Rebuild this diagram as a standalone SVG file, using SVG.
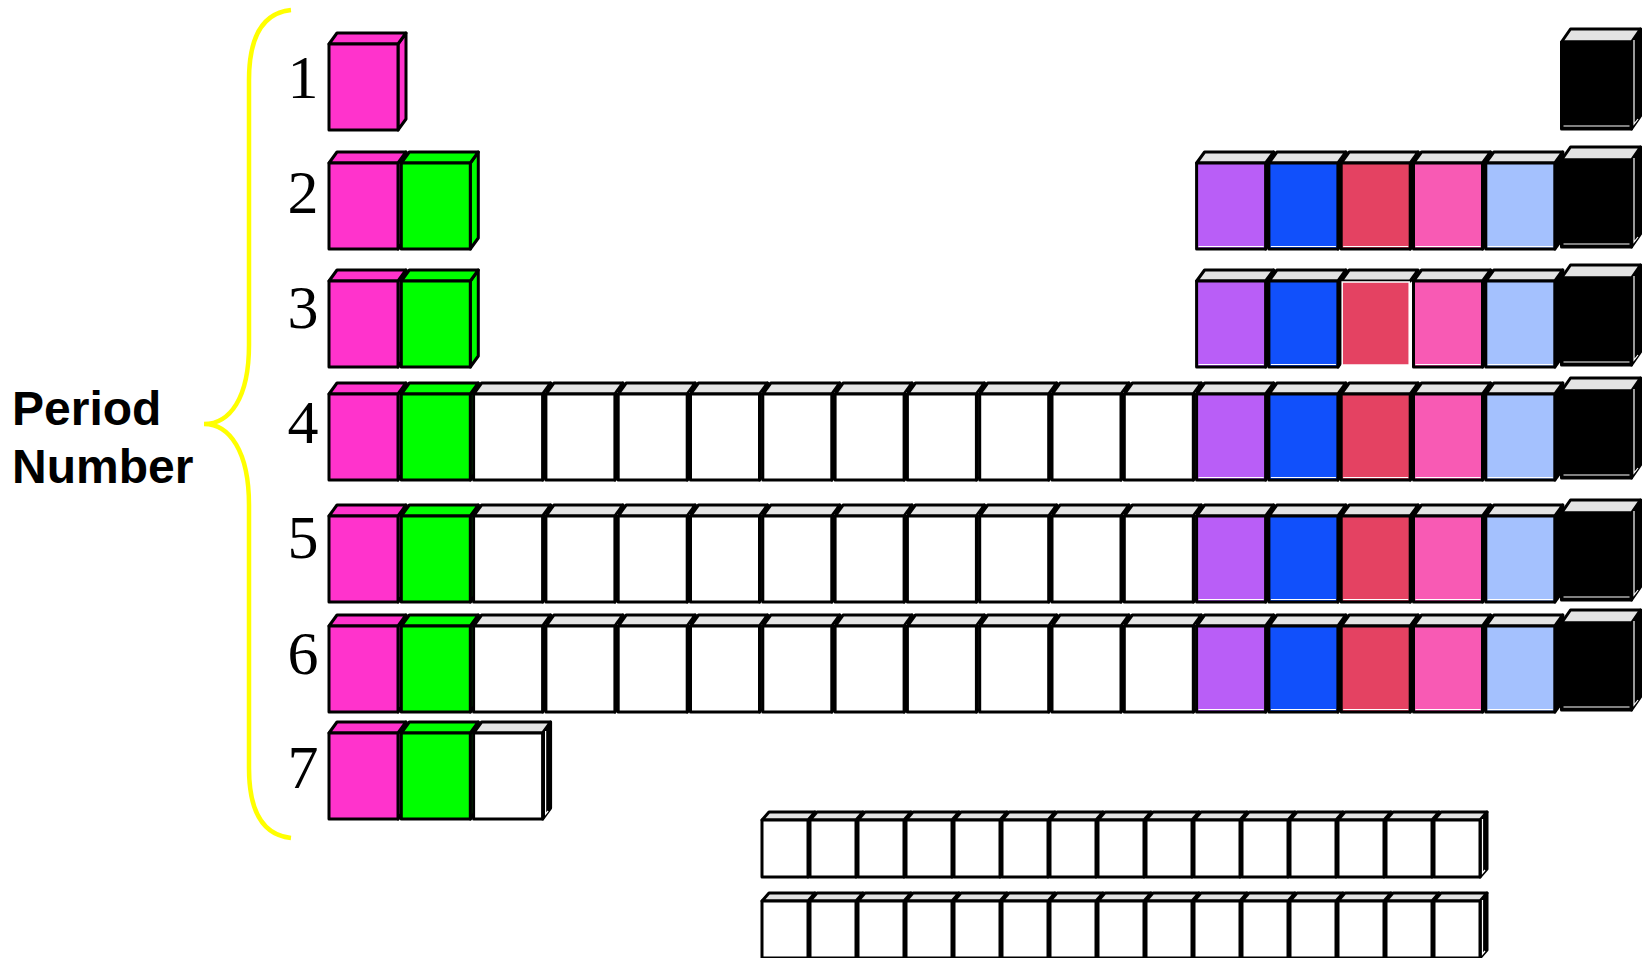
<svg xmlns="http://www.w3.org/2000/svg" width="1644" height="958" viewBox="0 0 1644 958">
<style>
.s{stroke:#000;stroke-width:3;stroke-linejoin:round}
.gt{fill:#E3E3E3}
.wl{stroke:#fff;stroke-width:1.2;fill:none}
.dig{font-family:"Liberation Serif","Times New Roman",serif;font-size:62px;fill:#000;text-anchor:middle}
.lab{font-family:"Liberation Sans",Arial,sans-serif;font-size:48px;font-weight:bold;fill:#000}
</style>
<defs>
<g id="b-pink" class="s"><polygon points="69,0 77,-11 77,75 69,86" fill="#FF33CC"/><polygon points="0,0 8,-11 77,-11 69,0" fill="#FF33CC"/><rect width="69" height="86" fill="#FF33CC"/></g>
<g id="b-green" class="s"><polygon points="69,0 77,-11 77,75 69,86" fill="#00FF00"/><polygon points="0,0 8,-11 77,-11 69,0" fill="#00FF00"/><rect width="69" height="86" fill="#00FF00"/></g>
<g id="b-white"><g class="s"><polygon points="69,0 77,-11 77,75 69,86" fill="#000"/><polygon points="0,0 8,-11 77,-11 69,0" class="gt"/><rect width="69" height="86" fill="#fff"/></g><polyline class="wl" points="72,-2 72,81 74.5,78"/></g>
<g id="b-purple"><g class="s"><polygon points="69,0 77,-11 77,75 69,86" fill="#000"/><polygon points="0,0 8,-11 77,-11 69,0" class="gt"/><rect width="69" height="86" fill="#B95EF7"/></g><line class="wl" x1="2" y1="83.5" x2="67" y2="83.5"/></g>
<g id="b-blue"><g class="s"><polygon points="69,0 77,-11 77,75 69,86" fill="#000"/><polygon points="0,0 8,-11 77,-11 69,0" class="gt"/><rect width="69" height="86" fill="#1150FB"/></g><line class="wl" x1="2" y1="83.5" x2="67" y2="83.5"/></g>
<g id="b-red"><g class="s"><polygon points="69,0 77,-11 77,75 69,86" fill="#000"/><polygon points="0,0 8,-11 77,-11 69,0" class="gt"/><rect width="69" height="86" fill="#E44262"/></g><line class="wl" x1="2" y1="83.5" x2="67" y2="83.5"/></g>
<g id="b-red-ns"><polygon class="s gt" points="0,0 8,-11 77,-11 69,0"/><rect x="1" y="1" width="67" height="83" fill="#E44262" stroke="#fff" stroke-width="1.5"/></g>
<g id="b-pink2"><g class="s"><polygon points="69,0 77,-11 77,75 69,86" fill="#000"/><polygon points="0,0 8,-11 77,-11 69,0" class="gt"/><rect width="69" height="86" fill="#F85AB4"/></g><line class="wl" x1="2" y1="83.5" x2="67" y2="83.5"/></g>
<g id="b-lblue"><g class="s"><polygon points="69,0 77,-11 77,75 69,86" fill="#000"/><polygon points="0,0 8,-11 77,-11 69,0" class="gt"/><rect width="69" height="86" fill="#A4C1FE"/></g><line class="wl" x1="2" y1="83.5" x2="67" y2="83.5"/></g>
<g id="b-black"><g class="s"><polygon points="70,0 79,-13 79,74 70,87" fill="#000"/><polygon points="0,0 9,-13 79,-13 70,0" class="gt"/><rect width="70" height="87" fill="#000"/></g><line class="wl" x1="2" y1="84" x2="68" y2="84"/><polyline class="wl" points="72.5,-2 72.5,82 76.5,77"/></g>
<g id="b-lan"><g class="s"><polygon points="46,0 53,-8 53,49 46,57" fill="#000"/><polygon points="0,0 7,-8 53,-8 46,0" class="gt"/><rect width="46" height="57" fill="#fff"/></g><polyline class="wl" points="48.5,-1 48.5,53 51,50"/></g>
</defs>

<g id="brace"><path d="M291,10 C262,13 249,38 249,80 L249,345 C249,398 230,424 204,424 C230,424 249,452 249,505 L249,768 C249,810 262,835 291,838" fill="none" stroke="#FFFF00" stroke-width="4.5"/></g>
<g id="label"><text class="lab" x="12" y="425">Period</text><text class="lab" x="12" y="483">Number</text></g>

<g id="digits">
<text class="dig" x="303" y="98">1</text>
<text class="dig" x="303" y="213">2</text>
<text class="dig" x="303" y="328">3</text>
<text class="dig" x="303" y="443">4</text>
<text class="dig" x="303" y="558">5</text>
<text class="dig" x="303" y="674">6</text>
<text class="dig" x="303" y="788">7</text>
</g>

<g id="period1">
<g id="p1-c1"><use href="#b-pink" x="329" y="44"/></g>
<g id="p1-c18"><use href="#b-black" x="1561.5" y="42"/></g>
</g>

<g id="period2">
<g id="p2-c1"><use href="#b-pink" x="329" y="163"/></g>
<g id="p2-c2"><use href="#b-green" x="401.3" y="163"/></g>
<g id="p2-c13"><use href="#b-purple" x="1196.6" y="163"/></g>
<g id="p2-c14"><use href="#b-blue" x="1268.9" y="163"/></g>
<g id="p2-c15"><use href="#b-red" x="1341.2" y="163"/></g>
<g id="p2-c16"><use href="#b-pink2" x="1413.5" y="163"/></g>
<g id="p2-c17"><use href="#b-lblue" x="1485.8" y="163"/></g>
<g id="p2-c18"><use href="#b-black" x="1561.5" y="160"/></g>
</g>

<g id="period3">
<g id="p3-c1"><use href="#b-pink" x="329" y="281"/></g>
<g id="p3-c2"><use href="#b-green" x="401.3" y="281"/></g>
<g id="p3-c13"><use href="#b-purple" x="1196.6" y="281"/></g>
<g id="p3-c14"><use href="#b-blue" x="1268.9" y="281"/></g>
<g id="p3-c15"><use href="#b-red-ns" x="1341.2" y="281"/></g>
<g id="p3-c16"><use href="#b-pink2" x="1413.5" y="281"/></g>
<g id="p3-c17"><use href="#b-lblue" x="1485.8" y="281"/></g>
<g id="p3-c18"><use href="#b-black" x="1561.5" y="278"/></g>
</g>

<g id="period4">
<g id="p4-c1"><use href="#b-pink" x="329" y="394"/></g>
<g id="p4-c2"><use href="#b-green" x="401.3" y="394"/></g>
<g id="p4-c3"><use href="#b-white" x="473.6" y="394"/></g>
<g id="p4-c4"><use href="#b-white" x="545.9" y="394"/></g>
<g id="p4-c5"><use href="#b-white" x="618.2" y="394"/></g>
<g id="p4-c6"><use href="#b-white" x="690.5" y="394"/></g>
<g id="p4-c7"><use href="#b-white" x="762.8" y="394"/></g>
<g id="p4-c8"><use href="#b-white" x="835.1" y="394"/></g>
<g id="p4-c9"><use href="#b-white" x="907.4" y="394"/></g>
<g id="p4-c10"><use href="#b-white" x="979.7" y="394"/></g>
<g id="p4-c11"><use href="#b-white" x="1052" y="394"/></g>
<g id="p4-c12"><use href="#b-white" x="1124.3" y="394"/></g>
<g id="p4-c13"><use href="#b-purple" x="1196.6" y="394"/></g>
<g id="p4-c14"><use href="#b-blue" x="1268.9" y="394"/></g>
<g id="p4-c15"><use href="#b-red" x="1341.2" y="394"/></g>
<g id="p4-c16"><use href="#b-pink2" x="1413.5" y="394"/></g>
<g id="p4-c17"><use href="#b-lblue" x="1485.8" y="394"/></g>
<g id="p4-c18"><use href="#b-black" x="1561.5" y="391"/></g>
</g>

<g id="period5">
<g id="p5-c1"><use href="#b-pink" x="329" y="516"/></g>
<g id="p5-c2"><use href="#b-green" x="401.3" y="516"/></g>
<g id="p5-c3"><use href="#b-white" x="473.6" y="516"/></g>
<g id="p5-c4"><use href="#b-white" x="545.9" y="516"/></g>
<g id="p5-c5"><use href="#b-white" x="618.2" y="516"/></g>
<g id="p5-c6"><use href="#b-white" x="690.5" y="516"/></g>
<g id="p5-c7"><use href="#b-white" x="762.8" y="516"/></g>
<g id="p5-c8"><use href="#b-white" x="835.1" y="516"/></g>
<g id="p5-c9"><use href="#b-white" x="907.4" y="516"/></g>
<g id="p5-c10"><use href="#b-white" x="979.7" y="516"/></g>
<g id="p5-c11"><use href="#b-white" x="1052" y="516"/></g>
<g id="p5-c12"><use href="#b-white" x="1124.3" y="516"/></g>
<g id="p5-c13"><use href="#b-purple" x="1196.6" y="516"/></g>
<g id="p5-c14"><use href="#b-blue" x="1268.9" y="516"/></g>
<g id="p5-c15"><use href="#b-red" x="1341.2" y="516"/></g>
<g id="p5-c16"><use href="#b-pink2" x="1413.5" y="516"/></g>
<g id="p5-c17"><use href="#b-lblue" x="1485.8" y="516"/></g>
<g id="p5-c18"><use href="#b-black" x="1561.5" y="513"/></g>
</g>

<g id="period6">
<g id="p6-c1"><use href="#b-pink" x="329" y="626"/></g>
<g id="p6-c2"><use href="#b-green" x="401.3" y="626"/></g>
<g id="p6-c3"><use href="#b-white" x="473.6" y="626"/></g>
<g id="p6-c4"><use href="#b-white" x="545.9" y="626"/></g>
<g id="p6-c5"><use href="#b-white" x="618.2" y="626"/></g>
<g id="p6-c6"><use href="#b-white" x="690.5" y="626"/></g>
<g id="p6-c7"><use href="#b-white" x="762.8" y="626"/></g>
<g id="p6-c8"><use href="#b-white" x="835.1" y="626"/></g>
<g id="p6-c9"><use href="#b-white" x="907.4" y="626"/></g>
<g id="p6-c10"><use href="#b-white" x="979.7" y="626"/></g>
<g id="p6-c11"><use href="#b-white" x="1052" y="626"/></g>
<g id="p6-c12"><use href="#b-white" x="1124.3" y="626"/></g>
<g id="p6-c13"><use href="#b-purple" x="1196.6" y="626"/></g>
<g id="p6-c14"><use href="#b-blue" x="1268.9" y="626"/></g>
<g id="p6-c15"><use href="#b-red" x="1341.2" y="626"/></g>
<g id="p6-c16"><use href="#b-pink2" x="1413.5" y="626"/></g>
<g id="p6-c17"><use href="#b-lblue" x="1485.8" y="626"/></g>
<g id="p6-c18"><use href="#b-black" x="1561.5" y="623"/></g>
</g>

<g id="period7">
<g id="p7-c1"><use href="#b-pink" x="329" y="733"/></g>
<g id="p7-c2"><use href="#b-green" x="401.3" y="733"/></g>
<g id="p7-c3"><use href="#b-white" x="473.6" y="733"/></g>
</g>

<g id="lanthanides">
<g id="la-1"><use href="#b-lan" x="762" y="820"/></g>
<g id="la-2"><use href="#b-lan" x="810" y="820"/></g>
<g id="la-3"><use href="#b-lan" x="858" y="820"/></g>
<g id="la-4"><use href="#b-lan" x="906" y="820"/></g>
<g id="la-5"><use href="#b-lan" x="954" y="820"/></g>
<g id="la-6"><use href="#b-lan" x="1002" y="820"/></g>
<g id="la-7"><use href="#b-lan" x="1050" y="820"/></g>
<g id="la-8"><use href="#b-lan" x="1098" y="820"/></g>
<g id="la-9"><use href="#b-lan" x="1146" y="820"/></g>
<g id="la-10"><use href="#b-lan" x="1194" y="820"/></g>
<g id="la-11"><use href="#b-lan" x="1242" y="820"/></g>
<g id="la-12"><use href="#b-lan" x="1290" y="820"/></g>
<g id="la-13"><use href="#b-lan" x="1338" y="820"/></g>
<g id="la-14"><use href="#b-lan" x="1386" y="820"/></g>
<g id="la-15"><use href="#b-lan" x="1434" y="820"/></g>
</g>

<g id="actinides">
<g id="ac-1"><use href="#b-lan" x="762" y="901"/></g>
<g id="ac-2"><use href="#b-lan" x="810" y="901"/></g>
<g id="ac-3"><use href="#b-lan" x="858" y="901"/></g>
<g id="ac-4"><use href="#b-lan" x="906" y="901"/></g>
<g id="ac-5"><use href="#b-lan" x="954" y="901"/></g>
<g id="ac-6"><use href="#b-lan" x="1002" y="901"/></g>
<g id="ac-7"><use href="#b-lan" x="1050" y="901"/></g>
<g id="ac-8"><use href="#b-lan" x="1098" y="901"/></g>
<g id="ac-9"><use href="#b-lan" x="1146" y="901"/></g>
<g id="ac-10"><use href="#b-lan" x="1194" y="901"/></g>
<g id="ac-11"><use href="#b-lan" x="1242" y="901"/></g>
<g id="ac-12"><use href="#b-lan" x="1290" y="901"/></g>
<g id="ac-13"><use href="#b-lan" x="1338" y="901"/></g>
<g id="ac-14"><use href="#b-lan" x="1386" y="901"/></g>
<g id="ac-15"><use href="#b-lan" x="1434" y="901"/></g>
</g>
</svg>
